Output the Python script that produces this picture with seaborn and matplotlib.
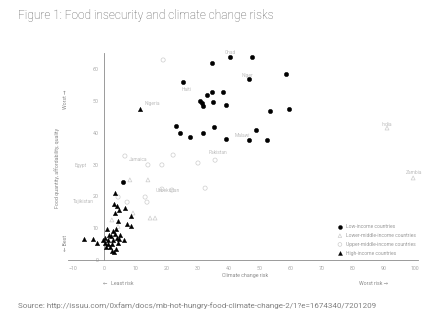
import matplotlib
matplotlib.use("Agg")
import matplotlib.pyplot as plt
import seaborn as sns
import pandas as pd

# ---- data ----
low_x = [34.7, 40.5, 47.6, 58.5, 46.6, 25.4, 34.7, 38.2, 33.1, 30.8, 31.5, 31.8, 35.0,
         39.2, 53.4, 59.5, 23.1, 24.4, 27.6, 31.8, 35.3, 39.2, 46.6, 48.9, 52.4, 6.1]
low_y = [61.9, 63.8, 63.8, 58.5, 56.9, 56.0, 52.8, 52.8, 51.9, 50.0, 49.4, 48.4, 49.7,
         48.7, 46.9, 47.5, 42.1, 39.9, 38.7, 39.9, 41.8, 38.1, 37.7, 40.9, 37.7, 24.5]

lmid_x = [8.3, 14.1, 2.5, 14.8, 16.4, 91.0, 99.4, 4.5, 9.3]
lmid_y = [25.2, 25.2, 12.6, 13.2, 13.2, 41.5, 25.8, 10.6, 14.8]

umid_x = [6.7, 14.1, 18.6, 22.2, 30.2, 4.5, 7.4, 13.2, 13.8, 18.6, 21.8, 32.5, 19.0, 35.7]
umid_y = [32.7, 29.9, 29.9, 33.0, 30.5, 19.8, 18.2, 19.8, 18.2, 22.3, 22.0, 22.6, 62.9, 31.4]

high_x = [3.5, 3.2, 4.1, 4.8, 3.5, 6.7, 8.7, 4.5, 7.4, 8.7, 0.9, 2.9, 3.8, 2.2, 3.5, 4.1,
          4.8, 6.4, 2.9, 0.3, 1.3, 0.3, 1.3, 2.5, 4.5, 0.6, 1.9, 3.8, 2.5, 3.2, -6.5,
          -3.6, -2.3, -0.4, 5.1, 1.6, 11.5]
high_y = [21.1, 17.6, 17.0, 15.7, 14.8, 16.4, 13.8, 12.3, 11.3, 10.7, 9.7, 9.1, 9.7, 7.5,
          8.2, 6.9, 6.6, 6.3, 6.3, 6.9, 6.3, 5.3, 5.0, 5.0, 5.3, 4.1, 4.1, 3.5, 2.8, 2.5,
          6.6, 6.6, 5.3, 6.3, 7.9, 7.9, 47.5]

group_names = ["Low-income countries", "Lower-middle-income countries",
               "Upper-middle-income countries", "High-income countries"]

label_text = ["Chad", "Niger", "Haiti", "Nigeria", "Malawi", "Pakistan", "India",
              "Zambia", "Egypt", "Tajikistan", "Jamaica", "Uzbekistan"]
label_x = [40.5, 46.2, 26.5, 15.5, 44.5, 36.5, 91.0, 99.8, -7.5, -6.5, 11.0, 20.5]
label_y = [65.3, 58.0, 53.5, 49.3, 39.2, 33.8, 42.5, 27.5, 29.7, 18.3, 31.5, 22.0]

x_ticks = [-10, 0, 10, 20, 30, 40, 50, 60, 70, 80, 90, 100]
y_ticks = [0, 10, 20, 30, 40, 50, 60]

# ---- build frame ----
frames = []
for name, xs, ys in zip(group_names, [low_x, lmid_x, umid_x, high_x],
                        [low_y, lmid_y, umid_y, high_y]):
    frames.append(pd.DataFrame({"x": xs, "y": ys, "group": name}))
df = pd.concat(frames, ignore_index=True)

sns.set_theme(style="white")
plt.rcParams["font.family"] = ["Roboto", "DejaVu Sans"]

fig = plt.figure(figsize=(4.43, 3.30), dpi=100)
ax = fig.add_axes([0.1542, 0.2121, 0.7896, 0.6264])

styles = {
    group_names[0]: dict(marker="o", s=10, color="black", edgecolor="black", linewidth=0.3),
    group_names[1]: dict(marker="^", s=8, facecolor="none", edgecolor="#cdcdcd", linewidth=0.5),
    group_names[2]: dict(marker="o", s=9, facecolor="none", edgecolor="#cdcdcd", linewidth=0.5),
    group_names[3]: dict(marker="^", s=10, color="black", edgecolor="black", linewidth=0.3),
}
for name in group_names:
    sub = df[df["group"] == name]
    sns.scatterplot(data=sub, x="x", y="y", ax=ax, label=name, clip_on=False,
                    zorder=3, **styles[name])

for t, lx, ly in zip(label_text, label_x, label_y):
    ax.text(lx, ly, t, fontsize=3.5, color="#bdbdbd", ha="center", va="center")

ax.set_xlim(-11.5, 101)
ax.set_ylim(0, 65)
ax.spines["left"].set_position(("data", 0))
for sp in ["top", "right"]:
    ax.spines[sp].set_visible(False)
for sp in ["left", "bottom"]:
    ax.spines[sp].set_color("#8a8a8a")
    ax.spines[sp].set_linewidth(0.6)
ax.set_xticks(x_ticks)
ax.set_yticks(y_ticks)
ax.tick_params(axis="both", labelsize=3.8, colors="#a8a8a8", length=2, width=0.4, pad=2.5)
ax.tick_params(axis="y", pad=2)
ax.set_xlabel("")
ax.set_ylabel("")
ax.grid(False)

leg = ax.legend(loc="upper left", bbox_to_anchor=(0.755, 0.185), frameon=False,
                fontsize=3.6, handletextpad=0.2, labelspacing=0.75, borderpad=0,
                markerscale=0.9, labelcolor="#9a9a9a")

fig.text(0.041, 0.952, "Figure 1: Food insecurity and climate change risks",
         fontsize=8.6, color="#5a5a5a", ha="left", va="center", fontweight="light")
fig.text(0.553, 0.164, "Climate change risk", fontsize=3.8, color="#8a8a8a",
         ha="center", va="center")
fig.text(0.266, 0.142, "\u2190   Least risk", fontsize=3.8, color="#8a8a8a",
         ha="center", va="center")
fig.text(0.842, 0.142, "Worst risk \u2192", fontsize=3.8, color="#8a8a8a",
         ha="center", va="center")
fig.text(0.129, 0.49, "Food quantity, affordability, quality", fontsize=3.8,
         color="#8a8a8a", rotation=90, ha="center", va="center")
fig.text(0.147, 0.70, "Worst \u2192", fontsize=3.8, color="#8a8a8a", rotation=90,
         ha="center", va="center")
fig.text(0.147, 0.265, "\u2190 Best", fontsize=3.8, color="#8a8a8a", rotation=90,
         ha="center", va="center")
fig.text(0.041, 0.073,
         "Source: http://issuu.com/0xfam/docs/mb-hot-hungry-food-climate-change-2/1?e=1674340/7201209",
         fontsize=5.8, color="#808080", ha="left", va="center")

fig.savefig("out.png", dpi=100)
